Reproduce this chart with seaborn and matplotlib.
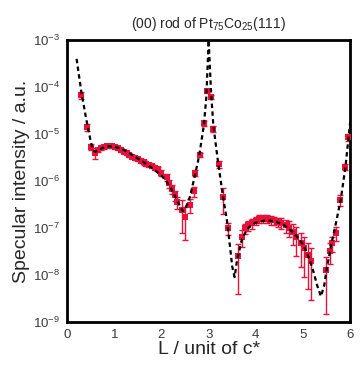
import numpy as np
import pandas as pd
import seaborn as sns
import matplotlib
matplotlib.use("Agg")
import matplotlib.pyplot as plt
from matplotlib.ticker import LogLocator, LogFormatterMathtext, FixedLocator

L_data = [0.30, 0.43, 0.51, 0.60, 0.66, 0.72, 0.78, 0.84, 0.90, 0.96,
          1.02, 1.08, 1.14, 1.20, 1.26, 1.32, 1.38, 1.44, 1.50, 1.56,
          1.62, 1.68, 1.74, 1.80, 1.86, 1.92, 2.00, 2.11, 2.16, 2.22,
          2.29, 2.33, 2.43, 2.50, 2.61, 2.68, 2.72, 2.81, 2.90, 2.96,
          3.05, 3.10, 3.21, 3.30, 3.42, 3.62, 3.70, 3.77, 3.84, 3.91,
          4.00, 4.07, 4.16, 4.23, 4.32, 4.39, 4.47, 4.54, 4.63, 4.70,
          4.79, 4.86, 4.95, 5.02, 5.10, 5.17, 5.48, 5.57, 5.62, 5.69,
          5.79, 5.90, 5.96]
I_data = [6.7e-5, 1.4e-5, 5.4e-6, 4.0e-6, 4.6e-6, 5.0e-6, 5.3e-6, 5.5e-6, 5.6e-6, 5.5e-6,
          5.3e-6, 5.0e-6, 4.6e-6, 4.2e-6, 3.9e-6, 3.6e-6, 3.3e-6, 3.1e-6, 2.9e-6, 2.7e-6,
          2.5e-6, 2.3e-6, 2.2e-6, 2.1e-6, 1.9e-6, 1.8e-6, 1.5e-6, 1.2e-6, 8.9e-7, 6.9e-7,
          5.0e-7, 3.6e-7, 2.4e-7, 1.7e-7, 3.1e-7, 6.0e-7, 1.5e-6, 3.6e-6, 1.7e-5, 8.3e-5,
          6.2e-5, 1.3e-5, 2.3e-6, 4.5e-7, 1.0e-7, 2.5e-8, 6.5e-8, 9.8e-8, 1.15e-7, 1.26e-7,
          1.44e-7, 1.55e-7, 1.55e-7, 1.55e-7, 1.48e-7, 1.45e-7, 1.35e-7, 1.29e-7, 1.15e-7, 1.02e-7,
          8.3e-8, 6.5e-8, 4.7e-8, 3.7e-8, 2.7e-8, 2.0e-8, 1.3e-8, 3.2e-8, 4.7e-8, 7.8e-8,
          4.0e-7, 2.0e-6, 8.7e-6]
E_data = [1.2e-5, 2.5e-6, 8e-7, 1.0e-6, 5e-7, 4e-7, 4e-7, 4e-7, 4e-7, 4e-7,
          4e-7, 4e-7, 3.5e-7, 3e-7, 3e-7, 3e-7, 2.5e-7, 2.5e-7, 2.5e-7, 2.5e-7,
          2.5e-7, 2.2e-7, 2.2e-7, 2.2e-7, 2e-7, 2e-7, 2e-7, 2e-7, 1.8e-7, 1.5e-7,
          1.2e-7, 1.0e-7, 1.6e-7, 1.15e-7, 1.0e-7, 1.5e-7, 2.5e-7, 4e-7, 2e-6, 8e-6,
          7e-6, 2e-6, 4e-7, 2.5e-7, 3e-8, 2.1e-8, 2.6e-8, 2.5e-8, 2.8e-8, 3e-8,
          3e-8, 3e-8, 3e-8, 3e-8, 3e-8, 3e-8, 3.2e-8, 3.4e-8, 3.6e-8, 3.8e-8,
          4e-8, 4e-8, 3.2e-8, 2.8e-8, 2.2e-8, 1.7e-8, 1.15e-8, 1.5e-8, 1.6e-8, 2.5e-8,
          1e-7, 3e-7, 1.5e-6]

# fitted curve (dashed line)
L_fit = [0.20, 0.30, 0.40, 0.50, 0.55, 0.60, 0.70, 0.80, 0.90, 1.00,
         1.20, 1.40, 1.60, 1.80, 2.00, 2.10, 2.20, 2.30, 2.40, 2.45,
         2.50, 2.60, 2.70, 2.80, 2.90, 2.95, 3.00, 3.05, 3.10, 3.20,
         3.30, 3.40, 3.50, 3.55, 3.60, 3.70, 3.80, 3.90, 4.00, 4.20,
         4.40, 4.60, 4.80, 5.00, 5.10, 5.20, 5.30, 5.38, 5.45, 5.50,
         5.60, 5.70, 5.80, 5.90, 6.00]
I_fit = [4.0e-4, 8.0e-5, 2.2e-5, 7.0e-6, 4.5e-6, 4.2e-6, 4.8e-6, 5.3e-6, 5.5e-6, 5.4e-6,
         4.6e-6, 3.5e-6, 2.6e-6, 1.9e-6, 1.3e-6, 1.0e-6, 7.0e-7, 4.5e-7, 2.8e-7, 2.3e-7,
         2.5e-7, 4.5e-7, 1.2e-6, 3.5e-6, 1.6e-5, 6.0e-5, 1.0e-3, 8.0e-5, 1.5e-5, 2.5e-6,
         5.0e-7, 1.2e-7, 1.5e-8, 9.0e-9, 2.0e-8, 5.5e-8, 9.0e-8, 1.15e-7, 1.3e-7, 1.45e-7,
         1.4e-7, 1.15e-7, 8.0e-8, 4.5e-8, 2.7e-8, 1.4e-8, 6.0e-9, 3.5e-9, 6.0e-9, 1.3e-8,
         4.5e-8, 1.3e-7, 4.0e-7, 2.0e-6, 1.8e-5]

sns.set_style("white")
plt.rcParams['font.family'] = ['Liberation Sans', 'DejaVu Sans']
plt.rcParams['mathtext.fontset'] = 'custom'
plt.rcParams['mathtext.rm'] = 'Liberation Sans'
plt.rcParams['mathtext.it'] = 'Liberation Sans:italic'

fig = plt.figure(figsize=(3.61, 3.65), dpi=100)
ax = fig.add_axes([0.186, 0.118, 0.784, 0.772])

fit_df = pd.DataFrame({'L': L_fit, 'I': I_fit})
data_df = pd.DataFrame({'L': L_data, 'I': I_data, 'err': E_data})

red = '#e8113a'
ax.errorbar(data_df['L'], data_df['I'], yerr=data_df['err'], fmt='none',
            ecolor=red, elinewidth=1.0, capsize=2.4, capthick=1.0, zorder=2)
sns.scatterplot(data=data_df, x='L', y='I', marker='s', s=16, color=red,
                edgecolor=red, linewidth=0, ax=ax, zorder=3)
sns.lineplot(data=fit_df, x='L', y='I', sort=False, color='black',
             linestyle=(0, (2.0, 1.5)), linewidth=1.6, ax=ax, zorder=4)

ax.set_yscale('log')
ax.set_xlim(0, 6)
ax.set_ylim(1e-9, 1e-3)
ax.xaxis.set_major_locator(FixedLocator([0, 1, 2, 3, 4, 5, 6]))
ax.yaxis.set_major_locator(LogLocator(base=10, numticks=10))
ax.yaxis.set_minor_locator(FixedLocator([]))
ax.yaxis.set_major_formatter(LogFormatterMathtext())
ax.tick_params(direction='in', length=4, width=1, colors='#3a3a3a',
               labelsize=9.5, pad=5)
for sp in ax.spines.values():
    sp.set_linewidth(2)
    sp.set_color('black')

ax.set_xlabel('L / unit of c*', fontsize=14, labelpad=0)
ax.set_ylabel('Specular intensity / a.u.', fontsize=14, labelpad=2)
ax.set_title('(00) rod of Pt$_{75}$Co$_{25}$(111)', fontsize=10, pad=9)

fig.savefig('out.png', dpi=100)
